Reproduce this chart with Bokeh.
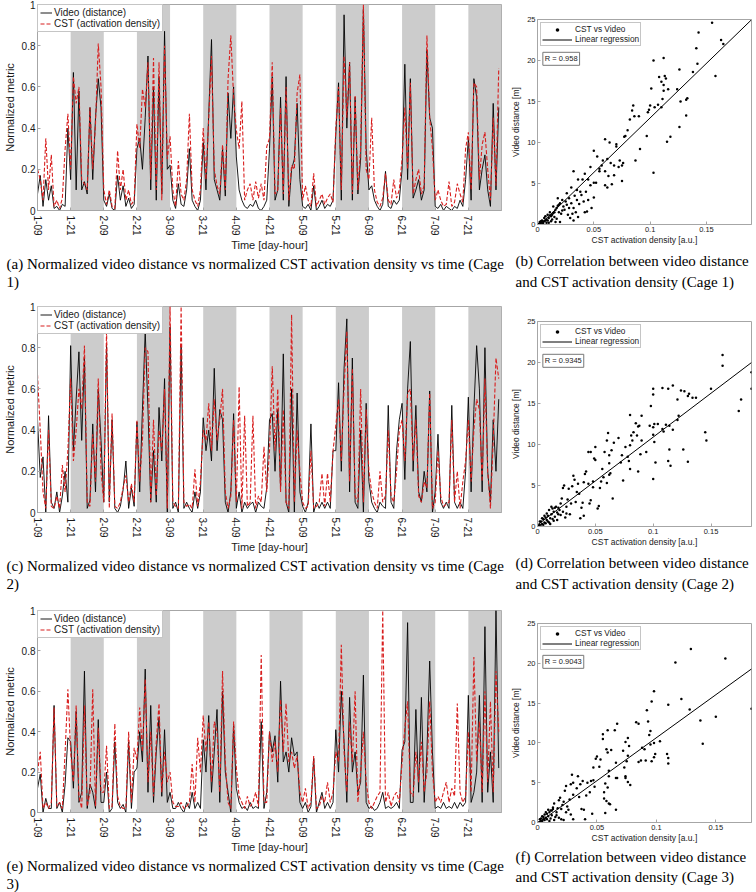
from bokeh.plotting import figure
from bokeh.models import Range1d, FixedTicker, Title, Label, Legend, LegendItem
from bokeh.layouts import column, row
from bokeh.embed import file_html
from bokeh.resources import INLINE

SANS = "Liberation Sans"
SERIF = "Liberation Serif"

# ---------------- data ----------------
hours = list(range(168))
tick_hours = list(range(0, 168, 12))
tick_labels = ["1-09", "1-21", "2-09", "2-21", "3-09", "3-21", "4-09", "4-21",
               "5-09", "5-21", "6-09", "6-21", "7-09", "7-21"]
night_start = [12, 36, 60, 84, 108, 132, 156]
night_end = [24, 48, 72, 96, 120, 144, 168]

video_c1 = [0.08, 0.17, 0.02, 0.15, 0.05, 0.12, 0.01, 0.02, 0.0, 0.03, 0.02, 0.4,
            0.15, 0.67, 0.1, 0.58, 0.1, 0.14, 0.08, 0.5, 0.15, 0.45, 0.64, 0.5,
            0.05, 0.02, 0.08, 0.01, 0.0, 0.17, 0.05, 0.12, 0.02, 0.06, 0.01, 0.03,
            0.3, 0.35, 0.2, 0.45, 0.75, 0.1, 0.6, 0.05, 0.65, 0.08, 0.87, 0.2,
            0.22, 0.05, 0.01, 0.13, 0.03, 0.02, 0.1, 0.3, 0.05, 0.02, 0.0, 0.05,
            0.33, 0.1, 0.47, 0.83, 0.15, 0.1, 0.05, 0.3, 0.07, 0.57, 0.35, 0.6,
            0.26, 0.1, 0.05, 0.02, 0.01, 0.03, 0.02, 0.05, 0.01, 0.0, 0.02, 0.05,
            0.3, 0.65, 0.05, 0.1, 0.55, 0.05, 0.65, 0.02, 0.2, 0.25, 0.52, 0.15,
            0.02, 0.01, 0.03, 0.0, 0.12, 0.0, 0.02, 0.05, 0.01, 0.03, 0.02, 0.05,
            0.37, 0.62, 0.05, 0.95, 0.4, 0.72, 0.05, 0.55, 0.08, 0.25, 0.98, 0.3,
            0.1, 0.12, 0.05, 0.02, 0.0, 0.03, 0.19, 0.02, 0.01, 0.05, 0.03, 0.05,
            0.2, 0.71, 0.15, 0.64, 0.06, 0.1, 0.15, 0.05, 0.1, 0.78, 0.45, 0.4,
            0.02, 0.01, 0.03, 0.0, 0.02, 0.01, 0.0, 0.02, 0.01, 0.05, 0.02, 0.15,
            0.35, 0.05, 0.64, 0.55, 0.1, 0.2, 0.27, 0.1, 0.02, 0.52, 0.1, 0.5]
cst_c1 = [0.2, 0.15, 0.05, 0.35, 0.1, 0.27, 0.02, 0.05, 0.01, 0.06, 0.3, 0.47,
          0.2, 0.65, 0.52, 0.6, 0.15, 0.13, 0.1, 0.5, 0.2, 0.42, 0.81, 0.6,
          0.1, 0.03, 0.1, 0.02, 0.01, 0.29, 0.1, 0.2, 0.05, 0.1, 0.03, 0.05,
          0.42, 0.3, 0.59, 0.5, 0.72, 0.15, 0.74, 0.1, 0.72, 0.05, 0.8, 0.25,
          0.36, 0.1, 0.02, 0.24, 0.08, 0.05, 0.15, 0.47, 0.1, 0.05, 0.02, 0.1,
          0.4, 0.15, 0.45, 0.75, 0.2, 0.12, 0.08, 0.32, 0.1, 0.64, 0.85, 0.55,
          0.39, 0.3, 0.53, 0.05, 0.1, 0.13, 0.05, 0.14, 0.06, 0.13, 0.05, 0.31,
          0.35, 0.72, 0.08, 0.1, 0.5, 0.08, 0.6, 0.05, 0.22, 0.2, 0.57, 0.66,
          0.05, 0.12, 0.05, 0.02, 0.18, 0.02, 0.05, 0.08, 0.03, 0.06, 0.08, 0.04,
          0.4, 0.6, 0.1, 0.75, 0.45, 0.72, 0.08, 0.56, 0.1, 0.3, 1.0, 0.2,
          0.15, 0.45, 0.1, 0.04, 0.02, 0.06, 0.18, 0.05, 0.03, 0.15, 0.06, 0.1,
          0.25, 0.5, 0.2, 0.62, 0.08, 0.15, 0.2, 0.08, 0.12, 0.85, 0.45, 0.3,
          0.05, 0.1, 0.05, 0.02, 0.03, 0.14, 0.02, 0.04, 0.13, 0.08, 0.04, 0.3,
          0.38, 0.1, 0.62, 0.6, 0.15, 0.32, 0.38, 0.2, 0.05, 0.45, 0.12, 0.69]

video_c2 = [0.45, 0.17, 0.27, 0.0, 0.47, 0.05, 0.02, 0.1, 0.0, 0.08, 0.2, 0.05,
            0.81, 0.3, 0.55, 0.78, 0.35, 0.75, 0.02, 0.06, 0.43, 0.1, 0.6, 0.35,
            0.05, 0.82, 0.05, 0.45, 0.02, 0.0, 0.03, 0.11, 0.25, 0.02, 0.12, 0.03,
            0.44, 0.1, 0.5, 0.88, 0.5, 0.05, 0.3, 0.05, 0.51, 0.25, 0.65, 0.0,
            0.9, 0.02, 0.05, 0.0, 0.81, 0.02, 0.05, 0.02, 0.0, 0.1, 0.02, 0.1,
            0.46, 0.3, 0.4, 0.25, 0.7, 0.3, 0.5, 0.45, 0.05, 0.0, 0.1, 0.48,
            0.02, 0.1, 0.0, 0.05, 0.02, 0.04, 0.05, 0.0, 0.05, 0.03, 0.02, 0.12,
            0.45, 0.48, 0.2, 0.5, 0.12, 0.77, 0.05, 0.0, 0.6, 0.0, 0.58, 0.1,
            0.03, 0.0, 0.05, 0.43, 0.0, 0.05, 0.02, 0.05, 0.02, 0.05, 0.02, 0.3,
            0.3, 0.63, 0.2, 0.7, 0.94, 0.1, 0.75, 0.05, 0.02, 0.4, 0.0, 0.53,
            0.15, 0.05, 0.02, 0.0, 0.05, 0.03, 0.02, 0.52, 0.05, 0.02, 0.3, 0.45,
            0.53, 0.16, 0.6, 0.83, 0.2, 0.52, 0.1, 0.05, 0.2, 0.1, 0.59, 0.0,
            0.1, 0.38, 0.05, 0.02, 0.05, 0.02, 0.52, 0.05, 0.02, 0.05, 0.02, 0.2,
            0.56, 0.1, 0.5, 0.81, 0.6, 0.1, 0.8, 0.2, 0.05, 0.45, 0.2, 0.55]
cst_c2 = [0.67, 0.4, 0.1, 0.02, 0.4, 0.03, 0.02, 0.08, 0.02, 0.23, 0.1, 0.3,
          0.65, 0.25, 0.4, 0.6, 0.5, 0.81, 0.05, 0.03, 0.38, 0.15, 0.65, 0.2,
          0.05, 0.89, 0.02, 0.48, 0.03, 0.02, 0.05, 0.12, 0.18, 0.05, 0.14, 0.05,
          0.45, 0.15, 0.35, 0.8, 0.78, 0.05, 0.45, 0.08, 0.4, 0.3, 0.6, 0.02,
          1.0, 0.05, 0.03, 0.02, 1.0, 0.05, 0.03, 0.04, 0.02, 0.21, 0.03, 0.15,
          0.4, 0.35, 0.53, 0.3, 0.55, 0.35, 0.45, 0.6, 0.1, 0.02, 0.08, 0.45,
          0.05, 0.61, 0.02, 0.47, 0.03, 0.05, 0.47, 0.02, 0.08, 0.05, 0.32, 0.1,
          0.3, 0.71, 0.3, 0.6, 0.1, 0.5, 0.05, 0.02, 0.96, 0.05, 0.4, 0.2,
          0.05, 0.02, 0.03, 0.3, 0.02, 0.03, 0.05, 0.19, 0.03, 0.19, 0.05, 0.3,
          0.42, 0.55, 0.25, 0.6, 0.88, 0.15, 0.7, 0.08, 0.05, 0.6, 0.05, 0.5,
          0.2, 0.1, 0.05, 0.02, 0.2, 0.05, 0.08, 0.4, 0.08, 0.05, 0.2, 0.4,
          0.45, 0.25, 0.58, 0.6, 0.25, 0.45, 0.08, 0.05, 0.15, 0.12, 0.58, 0.02,
          0.05, 0.3, 0.08, 0.03, 0.04, 0.05, 0.45, 0.05, 0.2, 0.02, 0.15, 0.25,
          0.45, 0.15, 0.4, 0.55, 0.5, 0.15, 0.65, 0.2, 0.02, 0.35, 0.75, 0.65]

video_c3 = [0.12, 0.19, 0.0, 0.07, 0.02, 0.02, 0.53, 0.02, 0.05, 0.0, 0.14, 0.37,
            0.35, 0.12, 0.5, 0.05, 0.1, 0.7, 0.02, 0.14, 0.1, 0.02, 0.46, 0.05,
            0.05, 0.2, 0.0, 0.02, 0.35, 0.05, 0.02, 0.04, 0.0, 0.35, 0.02, 0.2,
            0.22, 0.4, 0.25, 0.71, 0.1, 0.53, 0.05, 0.3, 0.47, 0.08, 0.41, 0.05,
            0.1, 0.02, 0.02, 0.05, 0.02, 0.0, 0.05, 0.02, 0.1, 0.02, 0.05, 0.02,
            0.36, 0.2, 0.48, 0.1, 0.3, 0.51, 0.05, 0.6, 0.2, 0.1, 0.0, 0.43,
            0.12, 0.05, 0.02, 0.03, 0.01, 0.05, 0.02, 0.03, 0.02, 0.45, 0.02, 0.1,
            0.4, 0.3, 0.38, 0.15, 0.65, 0.25, 0.3, 0.2, 0.37, 0.28, 0.3, 0.05,
            0.02, 0.05, 0.0, 0.03, 0.27, 0.0, 0.05, 0.1, 0.02, 0.05, 0.02, 0.05,
            0.41, 0.2, 0.6, 0.35, 0.05, 0.57, 0.2, 0.3, 0.1, 0.15, 0.68, 0.05,
            0.02, 0.03, 0.01, 0.02, 0.05, 0.1, 0.02, 0.03, 0.02, 0.03, 0.05, 0.02,
            0.31, 0.35, 0.94, 0.05, 0.05, 0.51, 0.1, 0.57, 0.05, 0.3, 0.75, 0.3,
            0.02, 0.03, 0.02, 0.05, 0.02, 0.03, 0.02, 0.05, 0.02, 0.05, 0.03, 0.05,
            0.58, 0.05, 0.1, 0.2, 0.58, 0.05, 0.92, 0.1, 0.3, 0.05, 1.0, 0.22]
cst_c3 = [0.2, 0.3, 0.02, 0.05, 0.02, 0.05, 0.52, 0.03, 0.05, 0.02, 0.3, 0.61,
          0.3, 0.15, 0.53, 0.08, 0.02, 0.53, 0.03, 0.1, 0.61, 0.03, 0.42, 0.1,
          0.1, 0.33, 0.02, 0.03, 0.44, 0.08, 0.03, 0.02, 0.02, 0.4, 0.05, 0.32,
          0.26, 0.52, 0.3, 0.66, 0.15, 0.4, 0.08, 0.35, 0.54, 0.1, 0.3, 0.15,
          0.2, 0.05, 0.03, 0.03, 0.05, 0.02, 0.03, 0.05, 0.24, 0.05, 0.37, 0.2,
          0.48, 0.3, 0.45, 0.15, 0.45, 0.4, 0.1, 0.7, 0.25, 0.05, 0.02, 0.45,
          0.22, 0.08, 0.05, 0.02, 0.08, 0.03, 0.05, 0.1, 0.03, 0.78, 0.05, 0.05,
          0.4, 0.25, 0.35, 0.2, 0.56, 0.3, 0.54, 0.25, 0.3, 0.22, 0.28, 0.1,
          0.05, 0.12, 0.02, 0.05, 0.28, 0.02, 0.03, 0.08, 0.05, 0.15, 0.05, 0.1,
          0.3, 0.25, 0.83, 0.3, 0.1, 0.45, 0.25, 0.6, 0.05, 0.2, 0.4, 0.15,
          0.05, 0.02, 0.05, 0.08, 0.1, 1.0, 0.05, 0.1, 0.03, 0.08, 0.1, 0.05,
          0.25, 0.42, 0.55, 0.1, 0.08, 0.3, 0.15, 0.35, 0.1, 0.2, 0.55, 0.2,
          0.05, 0.08, 0.05, 0.1, 0.15, 0.05, 0.12, 0.08, 0.54, 0.1, 0.05, 0.08,
          0.4, 0.1, 0.77, 0.25, 0.45, 0.1, 0.6, 0.15, 0.55, 0.1, 0.7, 0.4]

# scatter points: (CST activation density [a.u.], video distance [m])
pts_c1 = [(0.155, 24.6), (0.163, 22.5), (0.165, 22.0), (0.143, 23.4), (0.141, 21.5), (0.142, 19.6),
          (0.138, 18.6), (0.158, 18.1), (0.126, 18.9), (0.124, 16.5), (0.127, 15.0), (0.132, 15.2),
          (0.133, 15.4), (0.132, 13.3), (0.126, 11.9), (0.103, 20.0), (0.112, 20.3), (0.108, 18.0),
          (0.110, 17.4), (0.112, 17.0), (0.113, 18.1), (0.114, 17.8), (0.112, 16.3), (0.116, 16.5),
          (0.101, 16.6), (0.104, 14.3), (0.107, 14.6), (0.110, 14.3), (0.111, 15.3), (0.115, 10.1),
          (0.118, 10.7), (0.103, 6.3), (0.098, 13.7), (0.099, 14.0), (0.100, 14.5), (0.097, 10.8),
          (0.091, 9.2), (0.090, 13.2), (0.085, 14.5), (0.084, 13.9), (0.086, 13.2), (0.082, 12.8),
          (0.080, 11.5), (0.078, 10.8), (0.077, 10.7), (0.087, 7.8), (0.070, 9.5), (0.070, 9.8),
          (0.064, 10.0), (0.060, 10.4), (0.076, 7.5), (0.075, 7.2), (0.072, 7.0), (0.068, 7.2),
          (0.068, 6.0), (0.065, 7.5), (0.062, 8.0), (0.058, 7.8), (0.057, 7.2), (0.055, 6.8),
          (0.060, 6.5), (0.063, 5.9), (0.060, 4.8), (0.062, 4.5), (0.066, 4.9), (0.073, 7.8),
          (0.075, 5.3), (0.050, 9.0), (0.053, 8.3), (0.055, 6.5), (0.052, 5.1), (0.050, 5.1),
          (0.047, 4.8), (0.045, 5.5), (0.047, 7.0), (0.042, 6.2), (0.040, 5.5), (0.038, 4.0),
          (0.043, 4.0), (0.045, 3.0), (0.048, 2.0), (0.050, 3.3), (0.042, 1.5), (0.044, 1.6),
          (0.032, 6.5), (0.036, 5.5), (0.035, 4.2), (0.033, 3.5), (0.030, 4.5), (0.028, 3.2),
          (0.026, 3.8), (0.030, 2.6), (0.032, 2.0), (0.034, 1.5), (0.032, 0.5), (0.037, 2.5),
          (0.025, 2.8), (0.023, 2.2), (0.022, 3.0), (0.020, 2.6), (0.018, 2.3), (0.018, 3.2),
          (0.017, 2.0), (0.019, 1.5), (0.016, 1.8), (0.015, 1.5), (0.014, 2.2), (0.013, 1.2),
          (0.012, 1.0), (0.011, 1.5), (0.010, 0.8), (0.009, 1.2), (0.008, 0.6), (0.007, 1.0),
          (0.006, 0.4), (0.005, 0.3), (0.004, 0.5), (0.003, 0.2), (0.002, 0.1), (0.001, 0.05),
          (0.003, 0.4), (0.006, 0.8), (0.009, 0.5), (0.012, 0.4), (0.015, 0.9), (0.021, 1.3),
          (0.024, 1.8), (0.027, 1.2), (0.029, 0.8), (0.020, 0.3), (0.017, 0.7), (0.008, 0.2),
          (0.005, 0.1), (0.002, 0.3), (0.004, 0.0), (0.010, 0.2), (0.013, 0.6), (0.016, 0.3),
          (0.007, 0.5), (0.011, 1.1), (0.014, 1.4), (0.019, 2.4), (0.022, 1.7), (0.026, 2.4),
          (0.028, 2.0), (0.031, 1.3), (0.035, 3.0), (0.039, 3.6), (0.041, 2.8), (0.036, 0.9)]

pts_c2 = [(0.160, 20.9), (0.160, 19.6), (0.185, 18.8), (0.185, 16.8), (0.176, 15.5), (0.174, 14.1),
          (0.150, 16.8), (0.145, 11.5), (0.146, 10.5), (0.137, 15.7), (0.134, 15.7), (0.131, 16.2),
          (0.130, 15.9), (0.127, 16.5), (0.124, 16.6), (0.121, 15.5), (0.122, 13.5), (0.121, 13.0),
          (0.117, 17.2), (0.113, 16.8), (0.108, 16.9), (0.100, 16.8), (0.100, 16.1), (0.101, 12.5),
          (0.104, 12.5), (0.098, 14.7), (0.097, 12.3), (0.100, 12.1), (0.100, 11.2), (0.101, 10.3),
          (0.102, 7.8), (0.100, 5.8), (0.108, 11.9), (0.109, 11.6), (0.111, 12.4), (0.114, 12.3),
          (0.117, 11.8), (0.114, 9.4), (0.113, 8.0), (0.115, 7.4), (0.126, 9.4), (0.130, 7.9),
          (0.090, 13.5), (0.088, 12.3), (0.087, 12.2), (0.086, 11.1), (0.085, 12.6), (0.080, 13.6),
          (0.083, 11.5), (0.081, 11.1), (0.082, 10.5), (0.090, 10.5), (0.094, 9.1), (0.089, 8.8),
          (0.087, 6.7), (0.080, 9.9), (0.078, 8.5), (0.079, 8.0), (0.080, 7.0), (0.076, 9.7),
          (0.074, 5.6), (0.073, 8.7), (0.072, 7.8), (0.070, 10.8), (0.066, 10.2), (0.064, 9.3),
          (0.061, 11.4), (0.060, 10.5), (0.058, 9.1), (0.062, 8.7), (0.062, 7.7), (0.063, 6.5),
          (0.062, 6.3), (0.065, 3.4), (0.060, 5.3), (0.056, 7.0), (0.057, 6.0), (0.055, 5.5),
          (0.054, 4.7), (0.053, 2.5), (0.052, 2.2), (0.050, 9.7), (0.049, 8.3), (0.050, 8.1),
          (0.046, 9.1), (0.044, 9.1), (0.048, 5.5), (0.048, 4.8), (0.046, 3.2), (0.045, 2.8),
          (0.044, 5.2), (0.042, 6.7), (0.041, 6.4), (0.040, 5.4), (0.039, 2.9), (0.038, 2.3),
          (0.037, 1.0), (0.040, 1.3), (0.036, 4.0), (0.035, 5.2), (0.034, 4.2), (0.033, 3.0),
          (0.032, 5.7), (0.031, 6.2), (0.030, 4.9), (0.029, 2.8), (0.028, 1.5), (0.027, 4.6),
          (0.026, 3.3), (0.025, 2.4), (0.024, 1.1), (0.023, 5.0), (0.022, 4.7), (0.021, 3.4),
          (0.020, 2.8), (0.019, 2.0), (0.018, 1.5), (0.017, 1.7), (0.016, 2.4), (0.015, 2.3),
          (0.014, 1.8), (0.013, 2.2), (0.012, 1.5), (0.011, 1.0), (0.010, 2.0), (0.009, 1.3),
          (0.008, 0.8), (0.007, 1.1), (0.006, 0.5), (0.005, 0.9), (0.004, 0.3), (0.003, 0.6),
          (0.002, 0.2), (0.001, 0.1), (0.003, 0.0), (0.005, 0.2), (0.007, 0.4), (0.009, 0.6),
          (0.011, 0.3), (0.013, 0.9), (0.015, 1.2), (0.017, 0.8), (0.020, 1.4), (0.022, 1.8),
          (0.025, 1.6), (0.006, 1.3), (0.004, 1.0), (0.008, 1.6), (0.010, 0.5), (0.002, 0.6),
          (0.012, 2.4), (0.018, 2.3), (0.014, 0.7)]

pts_c3 = [(0.129, 21.8), (0.158, 20.6), (0.116, 20.1), (0.121, 15.5), (0.128, 14.2), (0.110, 14.8),
          (0.098, 16.5), (0.096, 15.2), (0.092, 14.1), (0.180, 14.3), (0.150, 13.3), (0.137, 12.8),
          (0.139, 9.9), (0.093, 12.7), (0.094, 11.0), (0.095, 11.5), (0.098, 10.0), (0.103, 10.2),
          (0.095, 9.8), (0.099, 8.6), (0.098, 8.2), (0.096, 7.7), (0.109, 8.6), (0.110, 8.1),
          (0.110, 7.4), (0.091, 7.8), (0.087, 7.8), (0.085, 7.6), (0.090, 9.2), (0.088, 9.4),
          (0.083, 12.6), (0.085, 12.4), (0.076, 10.6), (0.077, 9.6), (0.074, 10.1), (0.072, 9.0),
          (0.076, 8.4), (0.075, 7.7), (0.073, 6.9), (0.074, 5.8), (0.074, 5.6), (0.076, 5.1),
          (0.078, 4.7), (0.067, 12.4), (0.065, 11.6), (0.059, 11.6), (0.055, 11.1), (0.055, 10.5),
          (0.058, 9.2), (0.059, 8.8), (0.062, 9.1), (0.066, 7.5), (0.066, 5.6), (0.067, 5.6),
          (0.060, 6.5), (0.060, 5.8), (0.057, 4.9), (0.056, 3.8), (0.059, 4.4), (0.056, 3.0),
          (0.058, 2.7), (0.060, 2.4), (0.061, 2.3), (0.066, 1.6), (0.057, 1.2), (0.050, 8.3),
          (0.049, 8.0), (0.053, 7.9), (0.052, 7.0), (0.047, 6.9), (0.047, 5.3), (0.045, 5.2),
          (0.048, 4.5), (0.044, 3.8), (0.042, 5.0), (0.041, 3.4), (0.038, 5.2), (0.036, 4.8),
          (0.034, 5.8), (0.033, 4.3), (0.035, 3.2), (0.037, 1.7), (0.039, 1.6), (0.046, 1.1),
          (0.040, 0.4), (0.029, 6.0), (0.028, 4.8), (0.030, 5.0), (0.030, 3.5), (0.027, 2.9),
          (0.026, 1.6), (0.028, 1.0), (0.030, 0.4), (0.024, 4.6), (0.023, 4.0), (0.022, 2.6),
          (0.021, 2.2), (0.020, 1.7), (0.019, 3.1), (0.018, 2.8), (0.017, 1.8), (0.016, 1.3),
          (0.015, 0.7), (0.022, 0.3), (0.014, 2.4), (0.013, 1.7), (0.012, 1.5), (0.011, 1.5),
          (0.010, 1.3), (0.009, 1.6), (0.008, 1.1), (0.007, 0.6), (0.006, 1.0), (0.005, 0.4),
          (0.004, 0.2), (0.003, 0.5), (0.002, 0.1), (0.001, 0.0), (0.003, 0.2), (0.005, 0.7),
          (0.006, 0.3), (0.008, 0.4), (0.009, 0.8), (0.011, 0.5), (0.012, 0.9), (0.014, 0.3),
          (0.016, 0.9), (0.018, 0.6), (0.020, 0.4), (0.024, 1.3), (0.025, 2.0), (0.013, 1.9),
          (0.010, 0.2), (0.007, 1.3), (0.004, 0.8), (0.002, 0.4)]

# linear regression (slope, intercept) and correlation
reg_c1 = (133.0, -0.3)
reg_c2 = (107.0, 0.2)
reg_c3 = (108.0, -0.15)
xmax_c1, xmax_c2, xmax_c3 = 0.19, 0.185, 0.18
r_c1, r_c2, r_c3 = "R = 0.958", "R = 0.9345", "R = 0.9043"

scatter_xticks = [0, 0.05, 0.1, 0.15]
scatter_xlabels = ["0", "0.05", "0.1", "0.15"]
scatter_yticks = [0, 5, 10, 15, 20, 25]
ts_yticks = [0, 0.2, 0.4, 0.6, 0.8, 1]

cap_a = ["(a) Normalized video distance vs normalized CST activation density vs time (Cage", "1)"]
cap_b = ["(b) Correlation between video distance", "and CST activation density (Cage 1)"]
cap_c = ["(c) Normalized video distance vs normalized CST activation density vs time (Cage", "2)"]
cap_d = ["(d) Correlation between video distance", "and CST activation density (Cage 2)"]
cap_e = ["(e) Normalized video distance vs normalized CST activation density vs time (Cage", "3)"]
cap_f = ["(f) Correlation between video distance", "and CST activation density (Cage 3)"]

AX = "#a6a6a6"
TXT = "#1a1a1a"
RED = "#d81e1e"


def style_axes(p, tick_size, label_size):
    for ax in (p.xaxis[0], p.yaxis[0]):
        ax.axis_line_color = AX
        ax.major_tick_line_color = AX
        ax.major_tick_in = 3
        ax.major_tick_out = 0
        ax.minor_tick_line_color = None
        ax.major_label_text_font = SANS
        ax.major_label_text_font_size = tick_size
        ax.major_label_text_color = TXT
        ax.axis_label_text_font = SANS
        ax.axis_label_text_font_size = label_size
        ax.axis_label_text_font_style = "normal"
        ax.axis_label_text_color = TXT
        ax.major_label_standoff = 2
        ax.axis_label_standoff = 3
    p.xgrid.visible = False
    p.ygrid.visible = False
    p.outline_line_color = AX
    p.background_fill_color = "white"
    p.border_fill_color = "white"


def add_caption(p, lines, offset, first_standoff):
    for i, t in enumerate(lines):
        p.add_layout(Title(text=t, align="left", offset=offset, text_font=SERIF,
                           text_font_size="15px", text_font_style="normal",
                           text_color="black",
                           standoff=first_standoff if i == 0 else 0), "below")


def ts_fig(video, cst, caption, height, bottom):
    p = figure(width=507, height=height, x_range=Range1d(0, 168), y_range=Range1d(0, 1),
               output_backend="svg", toolbar_location=None, title_location=None,
               min_border_left=33, min_border_right=6, min_border_top=4,
               min_border_bottom=bottom)
    p.quad(left=night_start, right=night_end, bottom=0, top=1,
           fill_color="#cccccc", line_color=None)
    lv = p.line(hours, video, line_color="black", line_width=0.9)
    lc = p.line(hours, cst, line_color=RED, line_width=1.1, line_dash="4 2")
    leg = Legend(items=[LegendItem(label="Video (distance)", renderers=[lv]),
                        LegendItem(label="CST (activation density)", renderers=[lc])],
                 location="top_left", margin=0, padding=2, spacing=0, label_standoff=2,
                 glyph_width=12, glyph_height=11, label_height=11,
                 label_text_font=SANS, label_text_font_size="10px", label_text_color=TXT,
                 border_line_color="#8c8c8c", background_fill_alpha=1.0)
    p.add_layout(leg)
    style_axes(p, "10px", "11px")
    p.xaxis.ticker = FixedTicker(ticks=tick_hours)
    p.xaxis.major_label_overrides = dict(zip(tick_hours, tick_labels))
    p.xaxis.major_label_orientation = "vertical"
    p.xaxis.major_label_standoff = 5
    p.xaxis.axis_label_standoff = 0
    p.xaxis.axis_label = "Time [day-hour]"
    p.yaxis.ticker = FixedTicker(ticks=ts_yticks)
    p.yaxis.major_label_overrides = {0: "0", 1: "1"}
    p.yaxis.axis_label = "Normalized metric"
    add_caption(p, caption, -31, 0)
    return p


def sc_fig(pts, reg, xmax, rtext, caption, height, top, bottom, cap_standoff):
    xs = [a for a, b in pts]
    ys = [b for a, b in pts]
    p = figure(width=249, height=height, x_range=Range1d(0, xmax), y_range=Range1d(0, 25),
               output_backend="svg", toolbar_location=None, title_location=None,
               min_border_left=30, min_border_right=5, min_border_top=top,
               min_border_bottom=bottom)
    sc = p.scatter(xs, ys, size=2.5, marker="circle", fill_color="black", line_color=None)
    slope, intercept = reg
    lx = [0, xmax]
    ly = [intercept + slope * x for x in lx]
    ln = p.line(lx, ly, line_color="black", line_width=1)
    leg = Legend(items=[LegendItem(label="CST vs Video", renderers=[sc]),
                        LegendItem(label="Linear regression", renderers=[ln])],
                 location="top_left", margin=3, padding=1, spacing=0, label_standoff=3,
                 glyph_width=30, glyph_height=9, label_height=9,
                 label_text_font=SANS, label_text_font_size="8.3px", label_text_color=TXT,
                 border_line_color="#8c8c8c", background_fill_alpha=1.0)
    p.add_layout(leg)
    p.add_layout(Label(x=xmax * 0.025, y=21.0, text=rtext, text_font=SANS,
                       text_font_size="7.5px", text_color=TXT, text_baseline="top",
                       border_line_color="#777777", background_fill_color="white",
                       padding=2))
    style_axes(p, "7.5px", "8.5px")
    p.xaxis.ticker = FixedTicker(ticks=scatter_xticks)
    p.xaxis.major_label_overrides = dict(zip(scatter_xticks, scatter_xlabels))
    p.xaxis.axis_label_standoff = 0
    p.xaxis.axis_label = "CST activation density [a.u.]"
    p.yaxis.ticker = FixedTicker(ticks=scatter_yticks)
    p.yaxis.axis_label = "Video distance [m]"
    add_caption(p, caption, -22, cap_standoff)
    return p


pa = ts_fig(video_c1, cst_c1, cap_a, 302, 92)
pb = sc_fig(pts_c1, reg_c1, xmax_c1, r_c1, cap_b, 302, 19, 78, 6)
pc = ts_fig(video_c2, cst_c2, cap_c, 304, 94)
pd = sc_fig(pts_c2, reg_c2, xmax_c2, r_c2, cap_d, 304, 19, 80, 6)
pe = ts_fig(video_c3, cst_c3, cap_e, 286, 80)
pf = sc_fig(pts_c3, reg_c3, xmax_c3, r_c3, cap_f, 286, 17, 70, 3)

layout = row(column(pa, pc, pe), column(pb, pd, pf))

with open("out.html", "w") as f:
    f.write(file_html(layout, INLINE))
